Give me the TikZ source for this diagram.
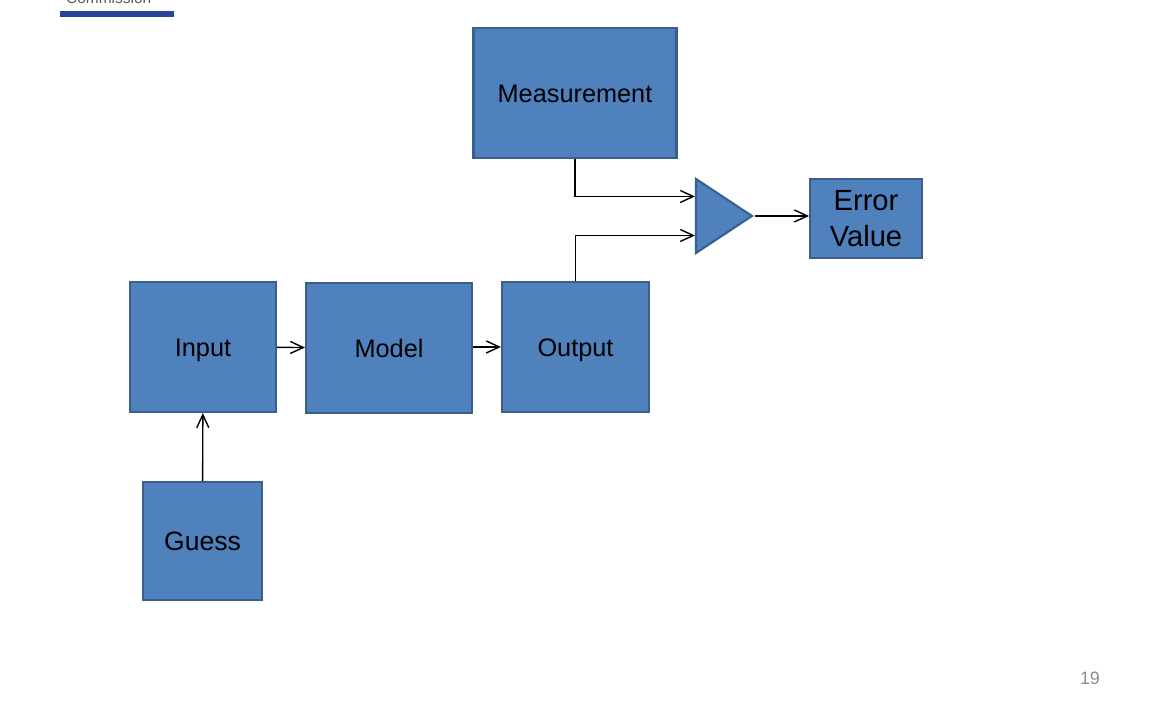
\documentclass[tikz,border=0pt]{standalone}
\usepackage{fontspec}
\setmainfont{Liberation Sans}
\usetikzlibrary{arrows.meta,shapes.geometric,calc}
\definecolor{boxfill}{RGB}{79,129,189}
\definecolor{boxline}{RGB}{58,95,140}
\definecolor{barblue}{RGB}{40,68,155}

\begin{document}
\begin{tikzpicture}[
	>={Straight Barb[length=1.3mm,width=1.2mm]},
	blk/.style={draw=boxline, fill=boxfill, line width=0.6pt, inner sep=0pt, align=center, text height=5.2pt, text depth=0pt, font=\fontsize{7.2pt}{8.6pt}\selectfont},
	wire/.style={->, line width=0.4pt}]
	\useasboundingbox (0, 0) rectangle (11.65, 7.20);
	\node [gray!70!black, inner sep=0pt, anchor=base west, font=\fontsize{4.4pt}{5pt}\selectfont] (Com) at (0.655, 7.165) {Commission};
	\fill [barblue] (0.60, 7.03) rectangle (1.74, 7.09);
	\node [blk, minimum width=2.03cm, minimum height=1.30cm] (Meas) at (5.75, 6.27) {Measurement};
	\node [blk, minimum width=1.46cm, minimum height=1.30cm] (Inp) at (2.03, 3.73) {Input};
	\node [blk, minimum width=1.66cm, minimum height=1.30cm] (Mod) at (3.89, 3.72) {Model};
	\node [blk, minimum width=1.47cm, minimum height=1.30cm] (Outp) at (5.755, 3.73) {Output};
	\node [blk, minimum width=1.19cm, minimum height=1.18cm, text height=5.45pt, font=\fontsize{7.55pt}{9pt}\selectfont] (Gs) at (2.025, 1.79) {Guess};
	\node [blk, isosceles triangle, isosceles triangle stretches, minimum width=0.74cm, minimum height=0.56cm] (Cmp) at (7.11, 5.04) {};
	\node [blk, minimum width=1.12cm, minimum height=0.79cm, text height=, text depth=, font=\fontsize{8.3pt}{10.2pt}\selectfont] (Err) at (8.66, 5.015) {Error\\Value};
	\node [gray!90!white, font=\fontsize{5.1pt}{6pt}\selectfont] (Pg) at (10.90, 0.42) {19};
	\draw [wire] (Gs) -- (Inp);
	\draw [wire] (Inp) -- (Mod);
	\draw [wire] (Mod.east |- Outp.west) -- (Outp);
	\draw [wire] (Meas.south) |- ($(Cmp.west)+(0, 0.195)$);
	\draw [wire] (Outp.north) |- ($(Cmp.west)+(0, -0.195)$);
	\draw [wire] (Cmp.apex) -- (Err.west |- Cmp.apex);
\end{tikzpicture}
\end{document}
